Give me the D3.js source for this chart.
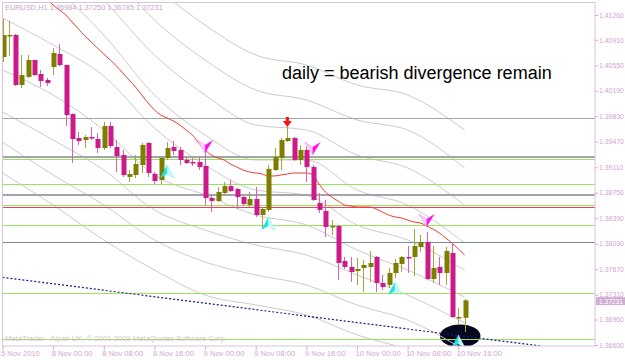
<!DOCTYPE html>
<html>
<head>
<meta charset="utf-8">
<script src="https://cdn.jsdelivr.net/npm/d3@7"></script>
<style>
  body { margin: 0; background: #fff; }
  text { font-family: "Liberation Sans", Arial, sans-serif; }
</style>
</head>
<body>
<div id="chart"></div>
<script>
// EURUSD H1 bars, 5 Nov 16:00 .. 10 Nov 17:00
const opens = [1.40667,1.40964,1.40978,1.40272,1.40385,1.40625,1.40427,1.40342,1.40526,1.40709,
  1.40554,1.39862,1.39523,1.39495,1.39537,1.39509,1.39382,1.39693,1.39396,1.39283,
  1.38973,1.39001,1.39142,1.39453,1.39015,1.38930,1.39241,1.39396,1.39354,1.39213,
  1.39184,1.39184,1.39128,1.38676,1.38634,1.38747,1.38845,1.38803,1.38690,1.38577,
  1.38662,1.38436,1.38507,1.39071,1.39241,1.39481,1.39523,1.39213,1.39354,1.39114,
  1.38605,1.38493,1.38260,1.38281,1.37786,1.37702,1.37645,1.37688,1.37702,1.37843,
  1.37476,1.37448,1.37617,1.37744,1.37843,1.37843,1.37984,1.38055,1.37532,1.37702,
  1.37617,1.37899,1.36982,1.36984];
const highs = [1.41204,1.41180,1.40992,1.40695,1.40695,1.40630,1.40483,1.40371,1.40794,1.40851,
  1.40560,1.39870,1.39608,1.39566,1.39679,1.39594,1.39749,1.39749,1.39495,1.39354,
  1.39071,1.39283,1.39453,1.39467,1.39043,1.39255,1.39467,1.39481,1.39396,1.39255,
  1.39241,1.39255,1.39354,1.38718,1.38831,1.38902,1.38930,1.38817,1.38704,1.38761,
  1.38831,1.38549,1.39142,1.39382,1.39523,1.39679,1.39537,1.39425,1.39396,1.39142,
  1.38747,1.38648,1.38365,1.38295,1.37843,1.37843,1.37829,1.37801,1.37928,1.37857,
  1.37589,1.37688,1.37815,1.37857,1.37998,1.38238,1.38154,1.38196,1.37998,1.37843,
  1.37984,1.38041,1.37123,1.37250];
const lows = [1.40596,1.40681,1.40258,1.40229,1.40371,1.40399,1.40244,1.40258,1.40413,1.40540,
  1.39693,1.39170,1.39425,1.39382,1.39495,1.39312,1.39354,1.39382,1.39043,1.38973,
  1.38902,1.38958,1.39029,1.38973,1.38874,1.38874,1.39213,1.39283,1.39142,1.39156,
  1.39128,1.39071,1.38577,1.38478,1.38620,1.38732,1.38761,1.38521,1.38563,1.38549,
  1.38408,1.38252,1.38478,1.39057,1.39071,1.39467,1.39199,1.39142,1.38902,1.38634,
  1.38464,1.38125,1.38154,1.37518,1.37674,1.37490,1.37448,1.37349,1.37490,1.37349,
  1.37377,1.37405,1.37546,1.37631,1.37617,1.37575,1.37914,1.37518,1.37476,1.37448,
  1.37448,1.36982,1.36883,1.36785];
const closes = [1.40978,1.40978,1.40272,1.40413,1.40625,1.40413,1.40328,1.40300,1.40724,1.40554,
  1.39848,1.39509,1.39481,1.39537,1.39523,1.39382,1.39693,1.39410,1.39269,1.39001,
  1.39015,1.39156,1.39425,1.39029,1.38916,1.39241,1.39382,1.39340,1.39213,1.39170,
  1.39178,1.39114,1.38676,1.38634,1.38761,1.38845,1.38775,1.38690,1.38591,1.38662,
  1.38436,1.38521,1.39086,1.39255,1.39495,1.39523,1.39213,1.39354,1.39114,1.38648,
  1.38507,1.38267,1.38281,1.37758,1.37702,1.37631,1.37674,1.37730,1.37758,1.37476,
  1.37419,1.37617,1.37758,1.37843,1.37836,1.37998,1.38055,1.37532,1.37688,1.37617,
  1.37928,1.36996,1.36996,1.37231];

// red moving average, starting at bar 7
const maStart = 7;
const maValues = [1.41486,1.41401,1.41331,1.41260,1.41161,1.41062,1.40964,1.40879,1.40794,1.40709,
  1.40625,1.40540,1.40441,1.40342,1.40244,1.40130,1.40018,1.39919,1.39848,1.39806,
  1.39763,1.39707,1.39636,1.39566,1.39453,1.39354,1.39283,1.39241,1.39213,1.39156,
  1.39114,1.39071,1.39043,1.39029,1.39015,1.38987,1.38987,1.39001,1.39015,1.39029,
  1.39029,1.39029,1.39001,1.38874,1.38761,1.38690,1.38634,1.38577,1.38563,1.38549,
  1.38549,1.38549,1.38521,1.38478,1.38436,1.38408,1.38394,1.38365,1.38337,1.38323,
  1.38281,1.38238,1.38182,1.38111,1.38041,1.37956,1.37871];

// grey band lines, sampled at these bars
const bandBars = [0, 8, 16, 24, 32, 40, 48, 56, 64, 73];
const bandLines = [
  [1.43802,1.43167,1.42461,1.41684,1.41119,1.40695,1.40554,1.40272,1.40130,1.39636],
  [1.43308,1.42672,1.41966,1.41190,1.40625,1.40201,1.40060,1.39778,1.39636,1.39100],
  [1.42813,1.42178,1.41472,1.40695,1.40130,1.39707,1.39636,1.39283,1.39100,1.38577],
  [1.42319,1.41684,1.40978,1.40130,1.39566,1.39213,1.39213,1.38789,1.38577,1.38041],
  [1.41218,1.40837,1.40399,1.39665,1.39142,1.38789,1.38718,1.38295,1.38083,1.37659],
  [1.40483,1.40130,1.39636,1.39001,1.38718,1.38436,1.38295,1.37942,1.37659,1.37278],
  [1.39890,1.39495,1.39071,1.38507,1.38224,1.38012,1.37871,1.37589,1.37306,1.36911],
  [1.39467,1.39001,1.38577,1.38083,1.37772,1.37589,1.37448,1.37165,1.36953,1.36530],
  [1.39029,1.38577,1.38083,1.37659,1.37306,1.37165,1.37024,1.36742,1.36530,1.36106]
];

// horizontal levels
const levelPrices = [1.39806,1.39269,1.39248,1.39227,1.38874,1.38732,1.38718,1.38577,1.38542,1.38295,1.38055,1.37335,1.36685];
const levelKinds  = ["grey","grey","grey","green","green","grey","grey","green","red","green","slate","green","green"];

// trend line (bar, price)
const trendBars = [0, 85];
const trendPrices = [1.37556, 1.36586];

// ellipse (bar span, price span)
const ellipseBars = [69.1, 75.5];
const ellipsePrices = [1.36890, 1.36565];

// signal arrows (bar, price of the tip)
const buyBars = [26, 42, 62, 72];
const buyPrices = [1.39142, 1.38408, 1.37490, 1.36742];
const sellBars = [32, 49, 67];
const sellPrices = [1.39312, 1.39283, 1.38267];
const fractalBars = [45];
const fractalPrices = [1.39679];

const xTickBars = [0, 8, 16, 24, 32, 40, 48, 56, 64, 72];
const xTickLabels = ["5 Nov 2010","8 Nov 00:00","8 Nov 08:00","8 Nov 16:00","9 Nov 00:00",
  "9 Nov 08:00","9 Nov 16:00","10 Nov 00:00","10 Nov 08:00","10 Nov 16:00"];
const yTickValues = [1.41260,1.40910,1.40550,1.40190,1.39830,1.39470,1.39110,1.38750,1.38390,
  1.38030,1.37670,1.37310,1.36960,1.36600];

const W = 625, H = 360;
const svg = d3.select("#chart").append("svg")
  .attr("width", W).attr("height", H)
  .style("display", "block").style("background", "#fff");

const x = d3.scaleLinear().domain([0, 73]).range([2.5, 464.6]);
const y = d3.scaleLinear().domain([1.36600, 1.41260]).range([345, 15]);

svg.append("clipPath").attr("id", "plotClip")
  .append("rect").attr("x", 2).attr("y", 2).attr("width", 593).attr("height", 344);

const g = svg.append("g").attr("clip-path", "url(#plotClip)");

// ellipse in the background
g.append("ellipse")
  .attr("cx", (x(ellipseBars[0]) + x(ellipseBars[1])) / 2)
  .attr("cy", (y(ellipsePrices[0]) + y(ellipsePrices[1])) / 2)
  .attr("rx", (x(ellipseBars[1]) - x(ellipseBars[0])) / 2)
  .attr("ry", (y(ellipsePrices[1]) - y(ellipsePrices[0])) / 2)
  .attr("fill", "#06061e");

// grey bands
const bandLine = d3.line()
  .x((d, i) => x(bandBars[i]))
  .y(d => y(d))
  .curve(d3.curveMonotoneX);
g.selectAll(".band").data(bandLines).enter().append("path")
  .attr("d", bandLine)
  .attr("fill", "none")
  .attr("stroke", "#cbcbcb")
  .attr("stroke-width", 1);

// horizontal levels
const levelColor = { grey: "#a4a4ac", green: "#9ae35a", red: "#e8405a", slate: "#7a8c98" };
g.selectAll(".level").data(levelPrices).enter().append("line")
  .attr("x1", 2).attr("x2", 595)
  .attr("y1", d => Math.round(y(d)) + 0.5)
  .attr("y2", d => Math.round(y(d)) + 0.5)
  .attr("stroke", (d, i) => levelColor[levelKinds[i]])
  .attr("stroke-width", 1);

// trend line
g.append("line")
  .attr("x1", x(trendBars[0])).attr("y1", y(trendPrices[0]))
  .attr("x2", x(trendBars[1])).attr("y2", y(trendPrices[1]))
  .attr("stroke", "#1a1a88")
  .attr("stroke-width", 1.2)
  .attr("stroke-dasharray", "2,2");

// red moving average
const maLine = d3.line()
  .x((d, i) => x(maStart + i))
  .y(d => y(d))
  .curve(d3.curveMonotoneX);
g.append("path")
  .attr("d", maLine(maValues))
  .attr("fill", "none")
  .attr("stroke", "#ee3a30")
  .attr("stroke-width", 1);

// candles
const idx = d3.range(opens.length);
const bull = i => closes[i] >= opens[i];
g.selectAll(".wick").data(idx).enter().append("line")
  .attr("x1", i => Math.round(x(i)) + 0.5)
  .attr("x2", i => Math.round(x(i)) + 0.5)
  .attr("y1", i => y(highs[i]))
  .attr("y2", i => y(lows[i]))
  .attr("stroke", i => bull(i) ? "#a4a43c" : "#e060b0")
  .attr("stroke-width", 1);
g.selectAll(".body").data(idx).enter().append("rect")
  .attr("x", i => Math.round(x(i)) - 1.5)
  .attr("width", 5)
  .attr("y", i => y(Math.max(opens[i], closes[i])))
  .attr("height", i => Math.max(1.5, Math.abs(y(opens[i]) - y(closes[i]))))
  .attr("fill", i => bull(i) ? "#7d7d00" : "#cc1a8a");

// buy arrows (cyan, pointing up)
const buy = g.selectAll(".buy").data(buyBars).enter().append("g")
  .attr("transform", (d, i) => `translate(${x(d)},${y(buyPrices[i])})`);
buy.append("path").attr("d", "M0,0L-7,13L0,9Z").attr("fill", "#19e6e6");
buy.append("path").attr("d", "M0,0L0,9L7,13Z").attr("fill", "#c4ffff").attr("stroke", "#7ff0f0").attr("stroke-width", 0.6);

// sell arrows (magenta, pointing down)
const sell = g.selectAll(".sell").data(sellBars).enter().append("g")
  .attr("transform", (d, i) => `translate(${x(d)},${y(sellPrices[i])})`);
sell.append("path").attr("d", "M0,0L-8,-13L0,-8Z").attr("fill", "#ffd0ff").attr("stroke", "#f090f0").attr("stroke-width", 0.6);
sell.append("path").attr("d", "M0,0L0,-8L8,-13Z").attr("fill", "#ff10f0");

// fractal arrow (red, down)
g.selectAll(".fractal").data(fractalBars).enter().append("path")
  .attr("transform", (d, i) => `translate(${x(d)},${y(fractalPrices[i])})`)
  .attr("d", "M0,0L-4.5,-6L-1.5,-6L-1.5,-10L1.5,-10L1.5,-6L4.5,-6Z")
  .attr("fill", "#ff1010");

// annotation
svg.append("text")
  .attr("x", 282).attr("y", 79)
  .attr("font-size", 18)
  .attr("fill", "#000")
  .text("daily = bearish divergence remain");

// header and watermark
svg.append("text").attr("x", 5).attr("y", 10)
  .attr("font-size", 7.4).attr("fill", "#c8a4cc")
  .text("EURUSD,H1  1.36984 1.37250 1.36785 1.37231");
svg.append("text").attr("x", 5).attr("y", 341)
  .attr("font-size", 7.6).attr("fill", "#d4c4d4")
  .text("MetaTrader - Alpari UK, \u00a9 2001-2009 MetaQuotes Software Corp.");

// frame
svg.append("rect")
  .attr("x", 2.5).attr("y", 2.5).attr("width", 592.5).attr("height", 343.5)
  .attr("fill", "none").attr("stroke", "#d8c4d8").attr("stroke-width", 1);

// price axis
const yAxis = d3.axisRight(y).tickValues(yTickValues)
  .tickFormat(d3.format(".5f")).tickSize(3).tickPadding(1);
const ya = svg.append("g").attr("transform", "translate(595,0)").call(yAxis);
ya.select(".domain").remove();
ya.selectAll("line").attr("stroke", "#d4a8d4");
ya.selectAll("text").attr("fill", "#d4a4d4").attr("font-size", 6.9)
  .attr("font-family", "'Liberation Sans', Arial, sans-serif");

// current price box
const last = closes[closes.length - 1];
svg.append("rect")
  .attr("x", 596).attr("y", y(last) - 3.2).attr("width", 29).attr("height", 8)
  .attr("fill", "#cfaed2");
svg.append("text")
  .attr("x", 599).attr("y", y(last) + 3.2)
  .attr("font-size", 6.6).attr("fill", "#fff")
  .text(d3.format(".5f")(last));

// time axis
const xAxis = d3.axisBottom(x).tickValues(xTickBars)
  .tickFormat((d, i) => xTickLabels[i]).tickSize(4).tickPadding(1);
const xa = svg.append("g").attr("transform", "translate(0,346)").call(xAxis);
xa.select(".domain").remove();
xa.selectAll("line").attr("stroke", "#d4a8d4");
xa.selectAll("text").attr("fill", "#d4a4d4").attr("font-size", 7.6)
  .attr("text-anchor", "start").attr("dx", -2)
  .attr("font-family", "'Liberation Sans', Arial, sans-serif");
</script>
</body>
</html>
